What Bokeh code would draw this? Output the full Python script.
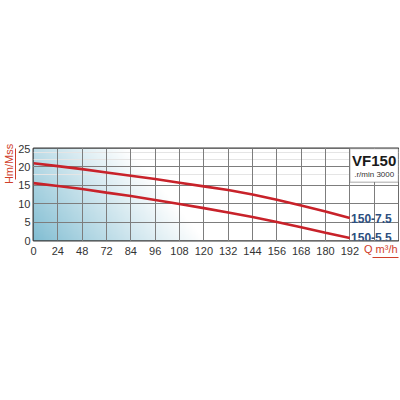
import numpy as np
from bokeh.plotting import figure
from bokeh.models import (Range1d, FixedTicker, Label, BoxAnnotation, Grid, LinearAxis)
from bokeh.embed import file_html
from bokeh.resources import INLINE

# ---- data ----
q_labels = [0, 24, 48, 72, 84, 96, 108, 120, 132, 144, 156, 168, 180, 192]
q_pos = list(range(len(q_labels)))
h_150_75 = [21.0, 20.2, 19.4, 18.5, 17.6, 16.7, 15.7, 14.7, 13.7, 12.5, 11.1, 9.5, 7.9, 6.1]
h_150_55 = [15.6, 14.8, 14.0, 13.0, 12.1, 11.0, 9.9, 8.8, 7.6, 6.4, 5.0, 3.6, 2.1, 0.7]
y_ticks = [0, 5, 10, 15, 20, 25]
series_names = ["150-7.5", "150-5.5"]
model_name = "VF150"
speed_text = ".r/min 3000"
y_title = "Hm/Mss"
x_title = "Q m\u00b3/h"

FONT = "Liberation Sans Narrow, Liberation Sans, Arial, sans-serif"
RED = "#d0402a"
GRAY_TXT = "#333333"

p = figure(frame_width=365, frame_height=92, output_backend="svg",
           toolbar_location=None, x_range=Range1d(0, 15), y_range=Range1d(0, 25),
           x_axis_location=None, y_axis_location=None,
           min_border_left=31, min_border_right=1, min_border_top=148,
           min_border_bottom=22, background_fill_color="white",
           border_fill_color="white")

# background gradient (style only)
nx, ny = 300, 100
xs = np.linspace(0, 15, nx)
ys = np.linspace(0, 25, ny)
X, Y = np.meshgrid(xs, ys)
f = np.clip(X / 7.0 + (Y / 25.0) * 0.45, 0, 1) ** 0.9
blue = np.array([128, 189, 210])
img = np.empty((ny, nx), dtype=np.uint32)
view = img.view(dtype=np.uint8).reshape((ny, nx, 4))
for c in range(3):
    view[:, :, c] = (blue[c] + (255 - blue[c]) * f).astype(np.uint8)
view[:, :, 3] = 255
p.image_rgba(image=[img], x=0, y=0, dw=15, dh=25, level="image")

# grids
p.add_layout(Grid(dimension=1, ticker=FixedTicker(ticks=y_ticks),
                  grid_line_color="#7d7d7d", grid_line_width=1))
p.add_layout(Grid(dimension=0, ticker=FixedTicker(ticks=list(range(0, 16))),
                  grid_line_color="#7d7d7d", grid_line_width=1))


def bare_axis(**kw):
    ax = LinearAxis(axis_line_color=None, major_tick_line_color=None,
                    minor_tick_line_color=None, major_tick_out=0, major_tick_in=0,
                    minor_tick_out=0, minor_tick_in=0,
                    major_label_text_font=FONT, major_label_text_font_size="11px",
                    major_label_text_color=GRAY_TXT)
    for k, v in kw.items():
        setattr(ax, k, v)
    return ax


# ---- left side: tick labels (inner), title with underline (outer) ----
yaxis = bare_axis(ticker=FixedTicker(ticks=y_ticks), major_label_standoff=3)
p.add_layout(yaxis, "left")
ytitle = bare_axis(ticker=FixedTicker(ticks=[20.8]),
                   major_label_overrides={20.8: y_title},
                   major_label_orientation="vertical",
                   major_label_text_color=RED, major_label_standoff=0,
                   axis_line_color=RED, axis_line_width=1, bounds=(16.6, 25.0))
p.add_layout(ytitle, "left")

# ---- bottom: title (inner), underline, tick labels pulled up into same row ----
xtitle = bare_axis(ticker=FixedTicker(ticks=[14.43]),
                   major_label_overrides={14.43: x_title},
                   major_label_text_color=RED, major_label_standoff=2)
p.add_layout(xtitle, "below")
xunder = bare_axis(ticker=FixedTicker(ticks=[]), major_label_standoff=0,
                   axis_line_color=RED, axis_line_width=1, bounds=(13.95, 15.0))
p.add_layout(xunder, "below")
xaxis = bare_axis(ticker=FixedTicker(ticks=q_pos),
                  major_label_overrides={i: str(v) for i, v in zip(q_pos, q_labels)},
                  major_label_standoff=-11)
p.add_layout(xaxis, "below")

p.outline_line_color = "#3a3a3a"
p.outline_line_width = 2

# curves
p.line(q_pos, h_150_75, line_color="#c8222a", line_width=2.6)
p.line(q_pos, h_150_55, line_color="#c8222a", line_width=2.6)

# model box
p.add_layout(BoxAnnotation(left=13, right=15, bottom=15.8, top=25,
                           fill_color="white", fill_alpha=1,
                           line_color="#3a3a3a", line_width=1.5))
p.add_layout(Label(x=14.0, y=19.4, text=model_name, text_align="center",
                   text_font=FONT, text_font_style="bold",
                   text_font_size="15px", text_color="#1a1a1a"))
p.add_layout(Label(x=14.0, y=16.8, text=speed_text, text_align="center",
                   text_font=FONT, text_font_size="8px", text_color=GRAY_TXT))

# series labels
for name, ys_ in zip(series_names, (h_150_75, h_150_55)):
    p.add_layout(Label(x=13.05, y=ys_[-1], text=name,
                       text_baseline="middle", text_font=FONT,
                       text_font_style="bold", text_font_size="12px",
                       text_color="#2d4f80"))

open("out.html", "w").write(file_html(p, INLINE))
